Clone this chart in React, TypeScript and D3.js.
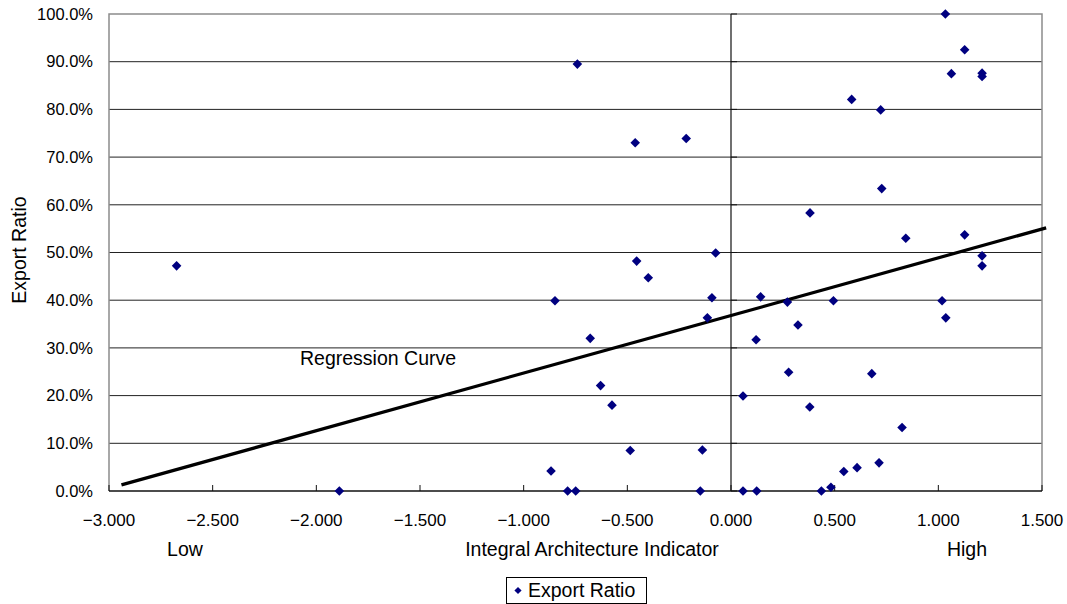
import React from 'react';
import * as d3 from 'd3';

// Integral Architecture Indicator (x) vs export ratio in % (y)
const indicator = [
  -2.674, -1.889, -0.868, -0.849, -0.788, -0.749, -0.741, -0.679, -0.629, -0.574,
  -0.486, -0.462, -0.455, -0.399, -0.216, -0.148, -0.138, -0.114, -0.092, -0.074,
  0.058, 0.058, 0.121, 0.124, 0.143, 0.272, 0.278, 0.323, 0.380, 0.381,
  0.436, 0.482, 0.494, 0.544, 0.582, 0.608, 0.679, 0.714, 0.722, 0.727,
  0.825, 0.843, 1.018, 1.034, 1.036, 1.063, 1.127, 1.127, 1.211, 1.211,
  1.211, 1.211,
];
const exportRatio = [
  47.2, 0.0, 4.2, 39.9, 0.0, 0.0, 89.5, 32.0, 22.1, 18.0,
  8.5, 73.0, 48.2, 44.7, 73.9, 0.0, 8.6, 36.3, 40.5, 49.9,
  19.9, 0.0, 31.7, 0.0, 40.7, 39.6, 24.9, 34.8, 17.6, 58.3,
  0.0, 0.8, 39.9, 4.1, 82.1, 4.9, 24.6, 5.9, 79.9, 63.4,
  13.3, 53.0, 39.9, 100.0, 36.3, 87.5, 92.5, 53.7, 87.6, 86.9,
  49.3, 47.2,
];

// regression line
const regressionX = [-2.94, 1.52];
const regressionSlope = 12.08;
const regressionIntercept = 36.8;

const xTicks = [-3, -2.5, -2, -1.5, -1, -0.5, 0, 0.5, 1, 1.5];
const yTicks = [0, 10, 20, 30, 40, 50, 60, 70, 80, 90, 100];

const font = '"Liberation Sans", Arial, sans-serif';

export default function App() {
  const width = 1067, height = 604;
  const left = 109, right = 1042, top = 14, bottom = 491;

  const x = d3.scaleLinear().domain([-3, 1.5]).range([left, right]);
  const y = d3.scaleLinear().domain([0, 100]).range([bottom, top]);
  const fx = d3.format('.3f');
  const fy = (v: number) => d3.format('.1f')(v) + '%';

  // square turned 45 degrees, as in the original marker
  const diamond = d3.symbol().type(d3.symbolSquare).size(46)();
  const points = indicator.map((v, i) => ({ x: v, y: exportRatio[i] }));

  const line = d3.line<number>()
    .x(d => x(d))
    .y(d => y(regressionIntercept + regressionSlope * d));

  const labelSize = 19.5;

  return (
    <svg width={width} height={height} style={{ position: 'absolute', left: 0, top: 0 }} fontFamily={font}>
      <rect width={width} height={height} fill="#fff" />

      {/* grid lines */}
      {yTicks.filter(t => t > 0 && t < 100).map(t => (
        <line key={'g' + t} x1={left} x2={right} y1={y(t)} y2={y(t)} stroke="#222" strokeWidth={1} />
      ))}

      {/* plot border */}
      <path d={`M${left},${bottom}V${top}H${right}V${bottom}`} fill="none" stroke="#8c8c8c" strokeWidth={1.5} />

      {/* x axis at 0% */}
      <line x1={left} x2={right} y1={bottom} y2={bottom} stroke="#111" strokeWidth={1.5} />
      {xTicks.map(t => (
        <line key={'xt' + t} x1={x(t)} x2={x(t)} y1={bottom} y2={bottom - 6} stroke="#111" strokeWidth={1} />
      ))}

      {/* y axis at x = 0 */}
      <line x1={x(0)} x2={x(0)} y1={top} y2={bottom} stroke="#111" strokeWidth={1.2} />
      {yTicks.map(t => (
        <line key={'yt' + t} x1={x(0)} x2={x(0) + 6} y1={y(t)} y2={y(t)} stroke="#111" strokeWidth={1} />
      ))}

      {/* tick labels */}
      {yTicks.map(t => (
        <text key={'yl' + t} x={93} y={y(t)} dy="0.35em" textAnchor="end" fontSize={16.5} fill="#000">
          {fy(t)}
        </text>
      ))}
      {xTicks.map(t => (
        <text key={'xl' + t} x={x(t)} y={520} dy="0.35em" textAnchor="middle" fontSize={17} fill="#000">
          {fx(t)}
        </text>
      ))}

      {/* regression line */}
      <path d={line(regressionX) || ''} fill="none" stroke="#000" strokeWidth={3.2} />
      <text x={300} y={358} dy="0.35em" fontSize={labelSize} fill="#000">Regression Curve</text>

      {/* points */}
      {points.map((p, i) => (
        <path key={i} d={diamond || ''} transform={`translate(${x(p.x)},${y(p.y)}) rotate(45)`} fill="#000080" />
      ))}

      {/* axis titles */}
      <text transform="translate(19,250) rotate(-90)" dy="0.35em" textAnchor="middle" fontSize={labelSize} fill="#000">
        Export Ratio
      </text>
      <text x={185} y={549} dy="0.35em" textAnchor="middle" fontSize={labelSize} fill="#000">Low</text>
      <text x={592} y={549} dy="0.35em" textAnchor="middle" fontSize={labelSize} fill="#000">Integral Architecture Indicator</text>
      <text x={967} y={549} dy="0.35em" textAnchor="middle" fontSize={labelSize} fill="#000">High</text>

      {/* legend */}
      <rect x={506.5} y={577.5} width={140} height={26} fill="#fff" stroke="#000" strokeWidth={1} />
      <path d={diamond || ''} transform="translate(518,590.5) rotate(45) scale(0.75)" fill="#000080" />
      <text x={528} y={590.5} dy="0.35em" fontSize={labelSize} fill="#000">Export Ratio</text>
    </svg>
  );
}
